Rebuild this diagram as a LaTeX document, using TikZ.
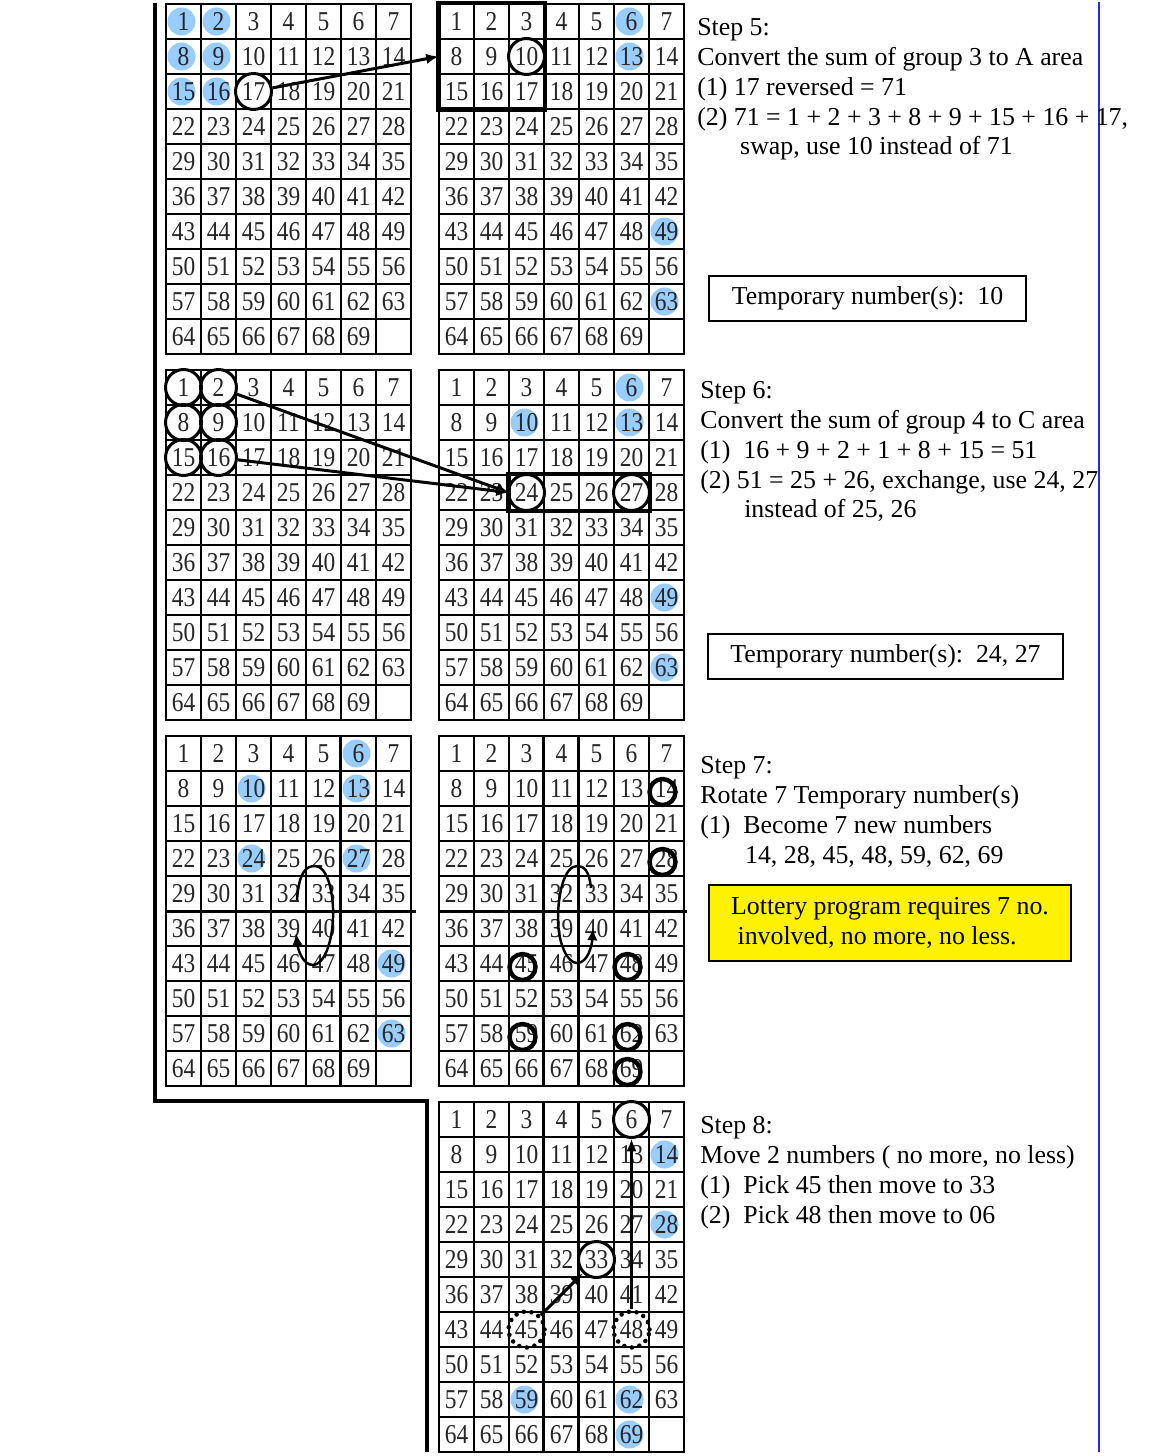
\documentclass[tikz,border=0pt]{standalone}
\usepackage{fontspec}
\setmainfont{Liberation Serif}
\newfontfamily\gridfont[FakeStretch=0.86]{Liberation Serif}
\usetikzlibrary{arrows.meta}
\pgfdeclarelayer{bg}
\pgfsetlayers{bg,main}
\definecolor{hlblue}{RGB}{153,204,255}
\definecolor{sideblue}{RGB}{40,40,235}

\begin{document}
\begin{tikzpicture}[x=0.02cm, y=-0.02cm,
  cell/.style={draw, line width=0.6pt, minimum size=0.7cm, inner sep=0pt,
    text=black!85, font=\gridfont\fontsize{15.5}{15.5}\selectfont},
  hl/.style={fill=hlblue},
  ring/.style={draw, circle, line width=1.7pt, minimum size=0.72cm, inner sep=0pt},
  fring/.style={draw, circle, line width=2.5pt, minimum size=0.52cm, inner sep=0pt,
    xshift=-0.08cm, yshift=-0.07cm},
  dring/.style={ring, line width=2.6pt, line cap=round, dash pattern=on 0pt off 4.4pt},
  arr/.style={line width=1.7pt, -{Latex[length=7pt,width=6pt]}},
  turn/.style={line width=1.4pt, -{Latex[length=7pt,width=6pt]}},
  steptext/.style={anchor=north west, align=left, inner sep=0pt,
    font=\fontsize{14.7}{17}\selectfont},
  tempbox/.style={draw, line width=1.1pt, minimum height=0.9cm,
    font=\fontsize{14.7}{17}\selectfont}]
  \useasboundingbox (0,0) rectangle (1156,1456);

  % the seven number grids
  \foreach \g/\gx/\gy in {A/166/4, B/439/4, C/166/370, D/439/370,
                          E/166/736, F/439/736, G/439/1102}
  {
    \foreach \n in {1,...,70}
    {
      \pgfmathtruncatemacro\cc{mod(\n-1,7)}
      \pgfmathtruncatemacro\rr{div(\n-1,7)}
      \node[cell] (\g\n) at (\gx+35*\cc+17.5, \gy+35*\rr+17.5) {\ifnum\n<70 \n\fi};
    }
    \draw[line width=1.1pt] (\gx,\gy) rectangle (\gx+245,\gy+350);
  }

  % blue marks
  \begin{pgfonlayer}{bg}
    \foreach \m in {A1,A2,A8,A9,A15,A16, B6,B13,B49,B63,
                    D6,D10,D13,D49,D63, E6,E10,E13,E24,E27,E49,E63,
                    G14,G28,G59,G62,G69}
      \fill[hl] ([xshift=-0.04cm]\m) circle (0.28cm);
  \end{pgfonlayer}

  % heavier lines
  \draw[line width=2.8pt] (155,3) -- (155,1101) -- (427,1101) -- (427,1452);
  \draw[line width=1.2pt, sideblue] (1099,2) -- (1099,1452);
  \draw[line width=1.7pt] (E29.south west) -- ([xshift=0.08cm]E35.south east);
  \draw[line width=1.7pt] (F29.south west) -- ([xshift=0.04cm]F35.south east);
  \draw[line width=1.2pt] (E6.north west) -- (E69.south west);
  \foreach \g in {F,G}
  {
    \draw[line width=1.2pt] (\g4.north west) -- (\g67.south west);
    \draw[line width=1.2pt] (\g5.north west) -- (\g68.south west);
  }
  \draw[line width=2.3pt] (B1.north west) rectangle (B17.south east);
  \draw[line width=2.3pt] (D24.north west) rectangle (D27.south east);

  % circled numbers
  \foreach \m in {A17, B10, C1, C2, C8, C9, C15, C16, D24, D27, G6, G33}
    \node[ring] (r\m) at (\m) {};
  \foreach \m in {14,28,45,48,59,62,69}
    \node[fring] (rF\m) at (F\m) {};
  \node[dring] (rG45) at (G45) {};
  \node[dring] (rG48) at (G48) {};

  % moves
  \draw[arr] (rA17) -- (B8.west);
  \draw[arr] (rC2) -- (D24.west);
  \draw[arr] (rC16) -- (D24.west);
  \draw[arr] (rG45) -- (rG33);
  \draw[arr] (rG48) -- (rG6);

  % rotation loops
  \draw[turn] (297,900) .. controls (299,872) and (306,866) .. (315,866)
    .. controls (328,866) and (334,895) .. (333,918)
    .. controls (332,945) and (323,965) .. (313,965)
    .. controls (303,965) and (298,950) .. (296,933);
  \draw[turn] (591,888) .. controls (589,870) and (584,866) .. (577,866)
    .. controls (564,866) and (558,895) .. (558,918)
    .. controls (558,945) and (568,963) .. (577,963)
    .. controls (588,963) and (592,945) .. (593,928);

  % explanations
  \node[steptext] (s5) at (697,18) {Step 5:\\
    Convert the sum of group 3 to A area\\
    (1) 17 reversed = 71\\
    (2) 71 = 1 + 2 + 3 + 8 + 9 + 15 + 16 + 17,\\
    \hspace*{24.4pt}swap, use 10 instead of 71};
  \node[tempbox, minimum width=6.34cm] (t5) at (867.5,298.5)
    {Temporary number(s):\ \ 10};

  \node[steptext] (s6) at (700,381) {Step 6:\\
    Convert the sum of group 4 to C area\\
    (1)\ \ 16 + 9 + 2 + 1 + 8 + 15 = 51\\
    (2) 51 = 25 + 26, exchange, use 24, 27\\
    \hspace*{25pt}instead of 25, 26};
  \node[tempbox, minimum width=7.1cm] (t6) at (885.5,656.5)
    {Temporary number(s):\ \ 24, 27};

  \node[steptext] (s7) at (700,756) {Step 7:\\
    Rotate 7 Temporary number(s)\\
    (1)\ \ Become 7 new numbers\\
    \hspace*{25.5pt}14, 28, 45, 48, 59, 62, 69};
  \node[tempbox, fill=yellow, align=left, minimum width=7.24cm, minimum height=1.52cm]
    (lot) at (890,923) {Lottery program requires 7 no.\\\ involved, no more, no less.};

  \node[steptext] (s8) at (700,1116) {Step 8:\\
    Move 2 numbers ( no more, no less)\\
    (1)\ \ Pick 45 then move to 33\\
    (2)\ \ Pick 48 then move to 06};
\end{tikzpicture}
\end{document}
